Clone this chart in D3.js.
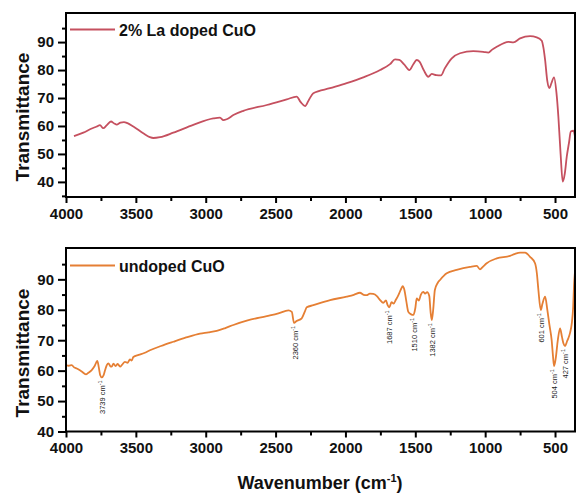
<!DOCTYPE html>
<html>
<head>
<meta charset="utf-8">
<script src="https://cdn.jsdelivr.net/npm/d3@7"></script>
<style>
  html, body { margin: 0; padding: 0; background: #fff; }
  svg { display: block; }
  text { font-family: "Liberation Sans", Arial, sans-serif; }
</style>
</head>
<body>
<svg id="chart" width="576" height="493"></svg>
<script>
// ---------------- DATA ----------------
const topName = "2% La doped CuO";
const topWavenumber = [3943,3876,3820,3780,3757,3733,3710,3678,3655,3637,3610,3585,3560,3518,3447,3400,3375,3327,3232,3089,2946,2898,2874,2850,2802,2731,2563,2420,2349,2320,2289,2260,2230,2110,1991,1872,1752,1681,1645,1614,1580,1543,1515,1490,1470,1440,1407,1382,1350,1316,1290,1239,1180,1085,1013,977,950,917,834,798,750,679,631,595,583,571,555,540,528,507,490,476,460,445,430,416,400,387,368,357];
const topTransmittance = [56.4,57.6,59.0,59.8,60.3,59.2,60.2,61.6,60.9,60.5,61.2,61.4,61.0,59.8,57.4,56.0,55.7,56.0,57.6,60.4,62.7,63.0,62.1,62.4,63.9,65.4,67.5,69.5,70.5,68.5,67.1,69.5,71.7,73.5,75.3,77.4,80.0,82.1,83.8,83.6,82.0,80.0,82.0,83.6,83.0,80.0,77.6,78.6,78.2,78.1,80.5,84.2,86.0,86.8,86.5,86.2,87.3,88.3,90.1,89.9,91.3,92.1,91.7,90.5,88.0,83.6,76.0,73.5,75.0,77.4,72.0,63.3,50.0,40.1,43.0,49.0,54.0,58.0,58.3,56.2];

const bottomName = "undoped CuO";
const bottomWavenumber = [4000,3980,3959,3940,3923,3890,3857,3840,3816,3795,3776,3765,3755,3744,3730,3720,3708,3696,3685,3673,3660,3645,3630,3613,3598,3578,3560,3542,3530,3518,3480,3440,3399,3320,3232,3140,3041,2980,2921,2860,2802,2700,2563,2480,2408,2384,2368,2350,2313,2290,2277,2230,2110,1991,1940,1896,1870,1849,1825,1801,1775,1752,1729,1710,1698,1686,1670,1655,1640,1621,1600,1590,1578,1565,1550,1530,1514,1500,1490,1475,1460,1443,1430,1415,1400,1390,1382,1372,1360,1340,1323,1275,1204,1108,1060,1037,1015,989,917,822,790,750,714,679,643,630,619,602,590,571,555,540,524,515,507,495,480,464,450,440,428,415,405,392,380,370,364,358];
const bottomTransmittance = [61.8,61.6,61.8,61.0,60.7,59.8,58.8,59.3,60.2,61.5,63.2,61.0,58.5,57.8,58.6,60.2,61.8,62.4,61.6,61.3,62.3,61.5,62.2,61.3,62.0,62.9,62.6,63.7,63.3,64.5,65.2,65.8,66.7,68.1,69.5,70.9,72.2,72.6,73.1,74.0,75.0,76.5,77.9,78.8,79.8,79.3,75.7,76.3,77.2,79.5,80.8,81.5,83.2,84.3,84.9,85.6,84.9,84.8,85.3,85.2,84.5,83.2,82.3,83.1,81.5,80.8,82.5,82.0,83.2,84.8,87.0,87.8,86.5,83.0,79.3,78.5,78.3,80.5,83.7,83.0,85.0,85.9,85.3,85.8,84.5,79.0,76.6,80.0,86.5,88.8,89.8,92.0,93.1,94.1,94.4,93.3,94.2,95.3,96.9,97.7,98.3,98.8,98.8,97.4,95.3,92.0,86.5,79.9,82.0,84.3,80.0,75.0,70.0,65.0,61.5,64.0,70.0,73.9,71.0,69.0,68.1,69.5,70.6,72.5,75.5,81.0,88.0,92.0];

const peakWavenumber = [3739, 2360, 1687, 1510, 1382, 601, 504, 427];
const peakTransmittance = [57.8, 75.7, 80.8, 78.3, 76.6, 79.9, 61.5, 68.1];
const peakLabels = ["3739 cm", "2360 cm", "1687 cm", "1510 cm", "1382 cm", "601 cm", "504 cm", "427 cm"];

const xMajorTicks = [4000, 3500, 3000, 2500, 2000, 1500, 1000, 500];
const xMinorTicks = [3750, 3250, 2750, 2250, 1750, 1250, 750];
const topYMajorTicks = [40, 50, 60, 70, 80, 90];
const topYMinorTicks = [35, 45, 55, 65, 75, 85, 95];
const bottomYMajorTicks = [40, 50, 60, 70, 80, 90];
const bottomYMinorTicks = [45, 55, 65, 75, 85, 95];

// ---------------- LAYOUT ----------------
const svg = d3.select("#chart");
const left = 66, right = 575;
const panels = [
  { name: topName, wn: topWavenumber, tr: topTransmittance, color: "#c5505f",
    top: 13, bottom: 197, domain: [34.6, 100.4], major: topYMajorTicks, minor: topYMinorTicks,
    legendY: 29.5, titleY: 117 },
  { name: bottomName, wn: bottomWavenumber, tr: bottomTransmittance, color: "#e57f34",
    top: 248, bottom: 431.5, domain: [40, 100.3], major: bottomYMajorTicks, minor: bottomYMinorTicks,
    legendY: 265.5, titleY: 353 }
];

const x = d3.scaleLinear().domain([4000, 357]).range([left, right]);
const font = '"Liberation Sans", Arial, sans-serif';

panels.forEach((p, i) => {
  const y = d3.scaleLinear().domain(p.domain).range([p.bottom, p.top]);
  p.y = y;
  const g = svg.append("g");

  const clipId = "clip" + i;
  svg.append("clipPath").attr("id", clipId).append("rect")
    .attr("x", left).attr("y", p.top).attr("width", right - left).attr("height", p.bottom - p.top);

  // data line
  const pts = p.wn.map((w, k) => [w, p.tr[k]]);
  g.append("path")
    .datum(pts)
    .attr("clip-path", `url(#${clipId})`)
    .attr("fill", "none")
    .attr("stroke", p.color)
    .attr("stroke-width", 1.8)
    .attr("stroke-linejoin", "round")
    .attr("d", d3.line().x(d => x(d[0])).y(d => y(d[1])).curve(d3.curveMonotoneX));

  // x axis major
  const xa = g.append("g").attr("transform", `translate(0,${p.bottom})`)
    .call(d3.axisBottom(x).tickValues(xMajorTicks).tickSize(6).tickPadding(5).tickFormat(d3.format("d")));
  xa.select(".domain").remove();
  xa.selectAll("line").attr("stroke", "#000").attr("stroke-width", 2);
  xa.selectAll("text").attr("font-family", font).attr("font-weight", "bold").attr("font-size", 15).attr("fill", "#111");
  const xm = g.append("g").attr("transform", `translate(0,${p.bottom})`)
    .call(d3.axisBottom(x).tickValues(xMinorTicks).tickSize(4).tickFormat(""));
  xm.select(".domain").remove();
  xm.selectAll("line").attr("stroke", "#000").attr("stroke-width", 2);

  // y axis
  const ya = g.append("g").attr("transform", `translate(${left},0)`)
    .call(d3.axisLeft(y).tickValues(p.major).tickSize(8).tickPadding(4).tickFormat(d3.format("d")));
  ya.select(".domain").remove();
  ya.selectAll("line").attr("stroke", "#000").attr("stroke-width", 2);
  ya.selectAll("text").attr("font-family", font).attr("font-weight", "bold").attr("font-size", 15).attr("fill", "#111");
  const ym = g.append("g").attr("transform", `translate(${left},0)`)
    .call(d3.axisLeft(y).tickValues(p.minor).tickSize(4).tickFormat(""));
  ym.select(".domain").remove();
  ym.selectAll("line").attr("stroke", "#000").attr("stroke-width", 2);

  // frame
  g.append("rect").attr("x", left).attr("y", p.top)
    .attr("width", right - left).attr("height", p.bottom - p.top)
    .attr("fill", "none").attr("stroke", "#000").attr("stroke-width", 2);

  // legend
  g.append("line").attr("x1", 70).attr("x2", 115).attr("y1", p.legendY).attr("y2", p.legendY)
    .attr("stroke", p.color).attr("stroke-width", 2);
  g.append("text").attr("x", 119).attr("y", p.legendY + 6)
    .attr("font-family", font).attr("font-weight", "bold").attr("font-size", 16).attr("fill", "#111")
    .text(p.name);

  // y title
  g.append("text")
    .attr("transform", `translate(29,${p.titleY}) rotate(-90)`)
    .attr("text-anchor", "middle")
    .attr("font-family", font).attr("font-weight", "bold").attr("font-size", 19).attr("fill", "#111")
    .text("Transmittance");
});

// peak annotations on bottom panel
const yb = panels[1].y;
peakWavenumber.forEach((w, k) => {
  const t = svg.append("text")
    .attr("transform", `translate(${x(w) + 3},${yb(peakTransmittance[k]) + 3}) rotate(-90)`)
    .attr("text-anchor", "end")
    .attr("font-family", font).attr("font-size", 7.5).attr("fill", "#222");
  t.append("tspan").text(peakLabels[k]);
  t.append("tspan").attr("dy", -3).attr("font-size", 5.5).text("-1");
});

// x title
const xt = svg.append("text")
  .attr("x", 320).attr("y", 489)
  .attr("text-anchor", "middle")
  .attr("font-family", font).attr("font-weight", "bold").attr("font-size", 18).attr("fill", "#111");
xt.append("tspan").text("Wavenumber (cm");
xt.append("tspan").attr("dy", -7).attr("font-size", 11).text("-1");
xt.append("tspan").attr("dy", 7).text(")");
</script>
</body>
</html>
